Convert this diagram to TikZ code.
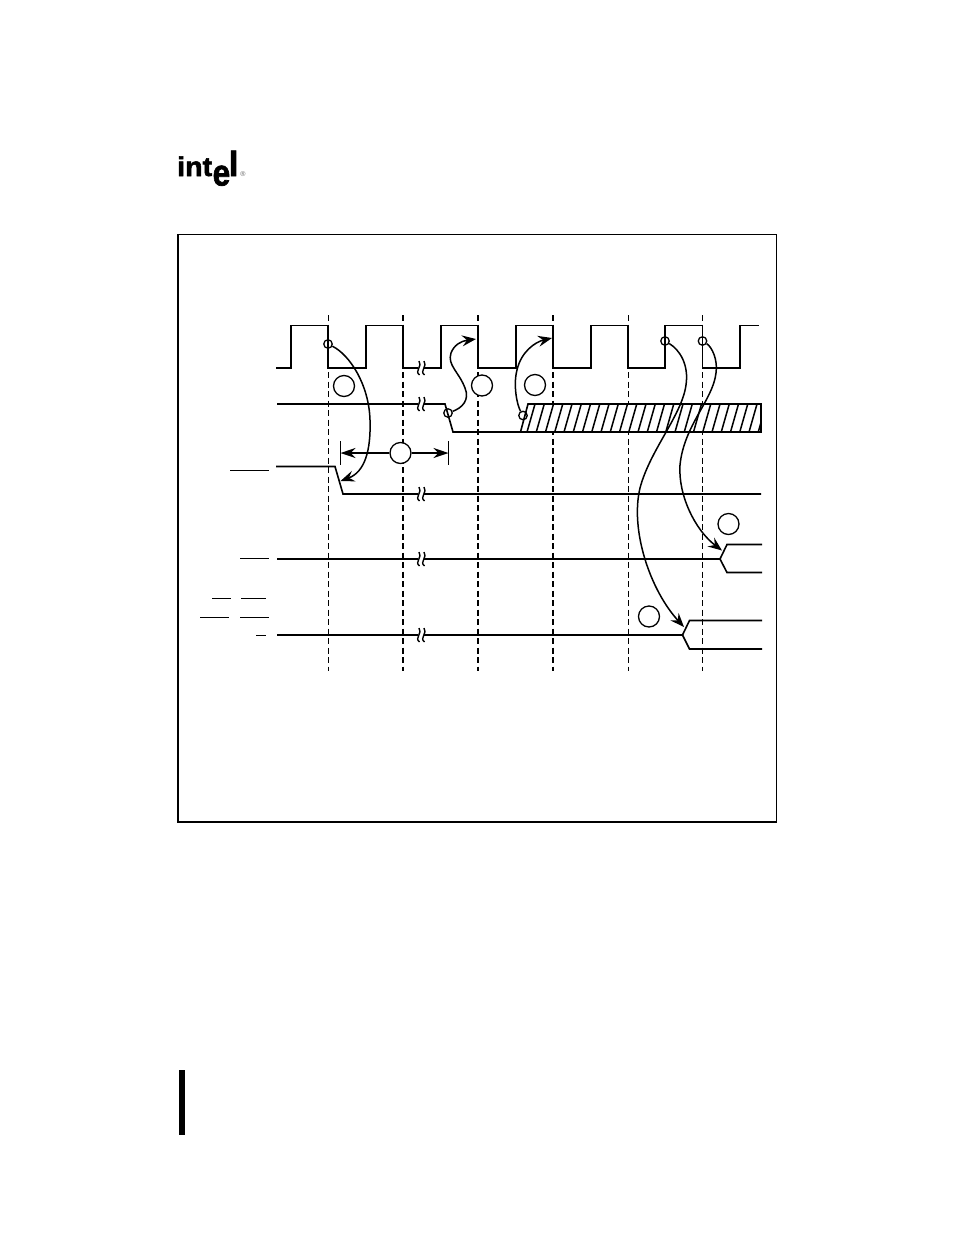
\documentclass[tikz,border=0pt]{standalone}
\usepackage{fontspec}
\setmainfont{Liberation Sans}
\newfontfamily\logofont[FakeBold=2]{Liberation Sans Bold}
\usetikzlibrary{arrows.meta}
\tikzset{
  wave/.style={line width=1.6pt,line join=miter},
  grid thin/.style={line width=1pt,dash pattern=on 6pt off 3.5pt},
  grid thick/.style={line width=1.8pt,dash pattern=on 6pt off 3.5pt},
  ref/.style={circle,draw,line width=1.3pt,fill=white,minimum size=21pt,inner sep=0pt},
  pin/.style={circle,draw,line width=1.3pt,minimum size=8.5pt,inner sep=0pt},
  cause/.style={line width=1.5pt,-{Stealth[length=14pt,width=11pt,inset=5pt]}},
  dim/.style={line width=1.8pt,-{Stealth[length=15pt,width=10pt,inset=5pt]}},
  bar/.style={line width=1pt},
  brk/.style={line width=1.4pt},
}
\newcommand{\brkmark}[2]{%
  \fill[white] (#1-3,#2-1.6) rectangle (#1+3,#2+1.6);
  \draw[brk] (#1-1.5,#2+7) .. controls (#1-7,#2+3) and (#1+2,#2-2) .. (#1-2,#2-7);
  \draw[brk] (#1+3.5,#2+7) .. controls (#1-2,#2+3) and (#1+7,#2-2) .. (#1+3,#2-7);
}
\begin{document}
\begin{tikzpicture}[x=1pt,y=-1pt]
\useasboundingbox (0,0) rectangle (954,1235);
\fill[white] (0,0) rectangle (954,1235);
% logo
\node[anchor=base west,inner sep=0pt,font=\logofont\fontsize{27}{27}\selectfont,xscale=1.06] (logoA) at (177,176) {int};
\node[anchor=base west,inner sep=0pt,font=\logofont\fontsize{37}{37}\selectfont,xscale=0.85] (logoB) at (212.5,185.5) {e};
\node[anchor=base west,inner sep=0pt,font=\logofont\fontsize{35}{35}\selectfont] (logoC) at (228.5,176) {l};
\node[inner sep=0pt,font=\fontsize{7}{7}\selectfont,text=black!60] (logoD) at (243,174.5) {®};
% frame
\draw[line width=1.5pt] (178,234.5) rectangle (776.5,822);
\fill (179,1070) rectangle (185,1135);
% grid
\draw[grid thin] (328,315) -- (328,671);
\draw[grid thick] (403,315) -- (403,671);
\draw[grid thick] (478,315) -- (478,671);
\draw[grid thick] (553,315) -- (553,671);
\draw[grid thin] (628,315) -- (628,671);
\draw[grid thin] (702.5,315) -- (702.5,671);
% clock
\draw[wave] (276,368) -- (291,368) -- (291,325.5) -- (328,325.5) -- (328,368) -- (366,368) -- (366,325.5) -- (403,325.5) -- (403,368) -- (441,368) -- (441,325.5) -- (478,325.5) -- (478,368) -- (516,368) -- (516,325.5) -- (553,325.5) -- (553,368) -- (591,368) -- (591,325.5) -- (628,325.5) -- (628,368) -- (665,368) -- (665,325.5) -- (702.5,325.5) -- (702.5,368) -- (740,368) -- (740,325.5) -- (759,325.5);
% second signal with hatched band
\fill[white] (520.5,432) -- (528,404) -- (761,404) -- (761,432) -- cycle;
\begin{scope}
\clip (520.5,432) -- (528,404) -- (761,404) -- (761,432) -- cycle;
\foreach \k in {0,...,26} {
  \draw[line width=1.5pt] ({527+\k*9.25},432) -- ({535+\k*9.25},404);
}
\end{scope}
\draw[wave] (277,404) -- (445,404) -- (453,432) -- (761,432) -- (761,404) -- (528,404) -- (520.5,432);
% third signal
\draw[wave] (276,466.5) -- (335,466.5) -- (343,494) -- (761,494);
% fourth signal
\draw[wave,line width=1.8pt] (277,559) -- (720,559);
\draw[wave] (720,559) -- (727,544.5) -- (762,544.5);
\draw[wave] (720,559) -- (727,572.5) -- (762,572.5);
% fifth signal
\draw[wave,line width=1.8pt] (277,635) -- (682.5,635);
\draw[wave] (682.5,635) -- (689.5,620.5) -- (762,620.5);
\draw[wave] (682.5,635) -- (689.5,649) -- (762,649);
% break marks
\brkmark{421}{368}
\brkmark{421}{404}
\brkmark{421}{494}
\brkmark{421}{559}
\brkmark{421}{635}
% pins
\node[pin] (p1) at (328,344) {};
\node[pin] (p2) at (448,413) {};
\node[pin] (p3) at (523,415.5) {};
\node[pin] (p4) at (665,341) {};
\node[pin] (p5) at (702.5,341) {};
% targets
\coordinate (t1) at (340.5,481);
\coordinate (t2) at (476,339);
\coordinate (t3) at (552,338);
\coordinate (t4) at (684,627);
\coordinate (t5) at (722,550.5);
% cause arrows
\draw[cause] (p1) .. controls (350,355) and (369,385) .. (370,420) .. controls (371,450) and (365,472) .. (t1);
\draw[cause] (p2) .. controls (462,408) and (470,400) .. (465,388) .. controls (459,372) and (447,365) .. (451,353) .. controls (454,345) and (461,341) .. (t2);
\draw[cause] (p3) .. controls (517,405) and (513,385) .. (517,370) .. controls (521,352) and (535,342) .. (t3);
\draw[cause] (p4) .. controls (680,350) and (689,365) .. (686,385) .. controls (682,415) and (650,450) .. (640,488) .. controls (630,530) and (650,590) .. (t4);
\draw[cause] (p5) .. controls (712,347) and (718,360) .. (716,373) .. controls (713,400) and (684,425) .. (680,465) .. controls (678,495) and (695,530) .. (t5);
% reference circles
\node[ref] (r1) at (344,386) {};
\node[ref] (r2) at (482,385.5) {};
\node[ref] (r3) at (535,385) {};
\node[ref] (r4) at (400.5,453) {};
\node[ref] (r5) at (728.5,524) {};
\node[ref] (r6) at (649,616.5) {};
% dimension
\coordinate (dl) at (340.5,453);
\coordinate (dr) at (448.5,453);
\draw[line width=1pt] (340.5,441) -- (340.5,465);
\draw[line width=1pt] (448.5,441) -- (448.5,465);
\draw[dim] (r4) -- (dl);
\draw[dim] (r4) -- (dr);
% overbars of the signal names
\draw[bar] (230,470) -- (269,470);
\draw[bar] (240,558.3) -- (269,558.3);
\draw[bar] (212,598.3) -- (231,598.3);
\draw[bar] (241,598.3) -- (266,598.3);
\draw[bar] (200,617.3) -- (229,617.3);
\draw[bar] (240,617.3) -- (269,617.3);
\draw[bar] (256,635) -- (266,635);
\end{tikzpicture}
\end{document}
